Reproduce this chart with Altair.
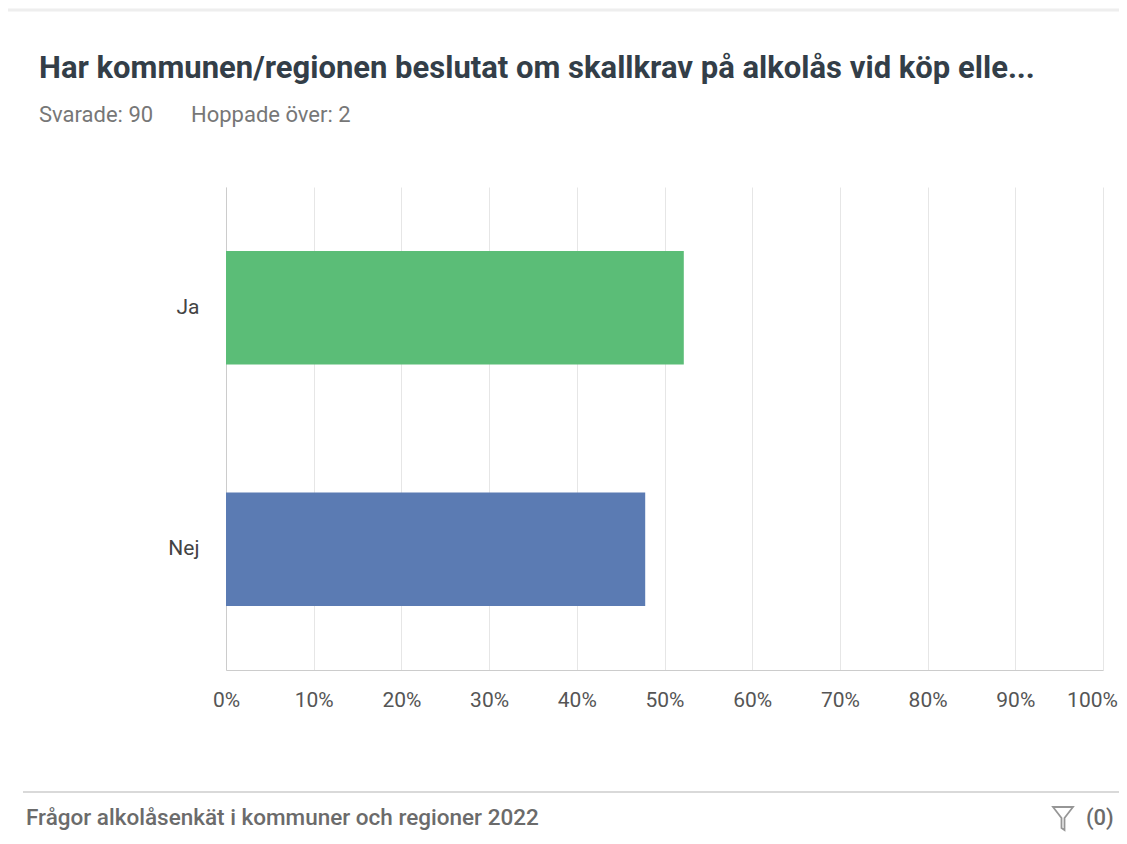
import altair as alt
import pandas as pd

categories = ["Ja", "Nej"]
percent = [52.2, 47.8]
bar_colors = ["#5bbd77", "#5b7bb3"]

title_text = ["Har kommunen/regionen beslutat om skallkrav på alkolås vid köp elle..."]
subtitle_left = ["Svarade: 90"]
subtitle_right = ["Hoppade över: 2"]
footer_text = ["Frågor alkolåsenkät i kommuner och regioner 2022"]
filter_text = ["(0)"]

FONT = "Roboto"

df = pd.DataFrame({"cat": categories, "pct": [p / 100 for p in percent]})

bars = alt.Chart(df).mark_bar().encode(
    y=alt.Y(
        "cat:N",
        sort=categories,
        title=None,
        scale=alt.Scale(paddingInner=0.53, paddingOuter=0.265),
        axis=alt.Axis(
            ticks=False, labelPadding=27, labelFontSize=21, labelColor="#444",
            labelFont=FONT, domainColor="#cccccc", grid=False,
        ),
    ),
    x=alt.X(
        "pct:Q",
        title=None,
        scale=alt.Scale(domain=[0, 1], nice=False),
        axis=alt.Axis(
            format="%", values=[i / 10 for i in range(11)], ticks=False,
            labelPadding=19, labelFontSize=21, labelColor="#555", labelFont=FONT,
            labelFlush=False, labelOffset=alt.expr("datum.value == 1 ? -11 : 0"),
            domainColor="#cccccc", gridColor="#e6e6e6", grid=True,
        ),
    ),
    color=alt.Color("cat:N", scale=alt.Scale(domain=categories, range=bar_colors), legend=None),
)


def txt(values, x, y, size, color, weight="normal", align="left"):
    return alt.Chart(pd.DataFrame({"t": values})).mark_text(
        align=align, baseline="alphabetic", fontSize=size, font=FONT,
        fontWeight=weight, color=color,
    ).encode(text="t:N", x=alt.value(x), y=alt.value(y))


title = txt(title_text, -187, -109, 31, "#333e48", "bold")
sub1 = txt(subtitle_left, -187, -65, 22, "#777")
sub2 = txt(subtitle_right, -35, -65, 22, "#777")
footer = txt(footer_text, -200, 638, 22.5, "#6b6b6b", 500)
filt = txt(filter_text, 860, 638, 22, "#6b6b6b", 500)

footer_line = alt.Chart(pd.DataFrame({"a": [0]})).mark_rule(color="#d9d9d9", strokeWidth=2).encode(
    x=alt.value(-203), x2=alt.value(896), y=alt.value(605)
)
top_line = alt.Chart(pd.DataFrame({"a": [0]})).mark_rule(color="#eeeeee", strokeWidth=3).encode(
    x=alt.value(-218), x2=alt.value(893), y=alt.value(-177)
)
funnel = alt.Chart(pd.DataFrame({"a": [0]})).mark_point(
    shape="M-1,-1.1 L1,-1.1 L0.15,0.0 L0.15,1.2 L-0.15,1.0 L-0.15,0.0 Z",
    filled=False, stroke="#6b6b6b", strokeWidth=1.8, size=400,
).encode(x=alt.value(837), y=alt.value(631))

chart = alt.layer(bars, title, sub1, sub2, footer, filt, footer_line, top_line, funnel).properties(
    width=877, height=483,
    autosize=alt.AutoSizeParams(type="none"),
    padding={"left": 218, "top": 179, "right": 16, "bottom": 163},
    background="white",
).configure_view(stroke=None)

chart.save("out.html", embed_options={"renderer": "svg", "actions": False})
